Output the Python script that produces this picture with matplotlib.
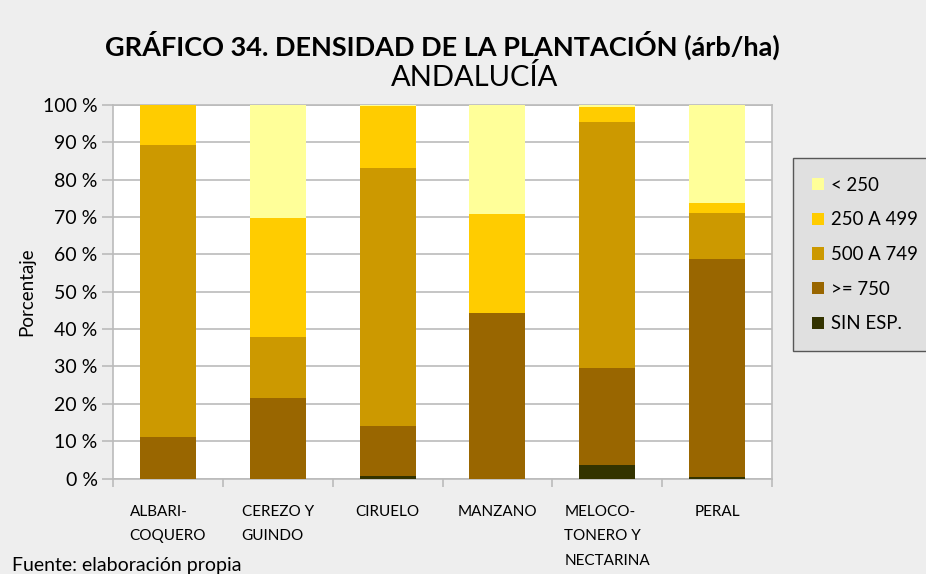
import numpy as np
import matplotlib.pyplot as plt

plt.rcParams['font.family'] = ['Lato', 'DejaVu Sans']

categorias = ["ALBARI-\nCOQUERO", "CEREZO Y\nGUINDO", "CIRUELO", "MANZANO",
              "MELOCO-\nTONERO Y\nNECTARINA", "PERAL"]

# porcentaje de superficie por clase de densidad (apiladas de abajo arriba)
sin_esp = [0.0, 0.0, 0.7, 0.0, 3.6, 0.4]
mayor_750 = [11.1, 21.6, 13.3, 44.3, 26.0, 58.4]
de_500_749 = [78.2, 16.3, 69.2, 0.0, 65.9, 12.3]
de_250_499 = [10.7, 31.9, 16.6, 26.5, 4.0, 2.7]
menor_250 = [0.0, 30.2, 0.2, 29.2, 0.5, 26.2]

series = [("SIN ESP.", sin_esp, "#333300"),
          (">= 750", mayor_750, "#996600"),
          ("500 A 749", de_500_749, "#CC9900"),
          ("250 A 499", de_250_499, "#FFCC00"),
          ("< 250", menor_250, "#FFFF99")]

fig = plt.figure(figsize=(9.26, 5.74), dpi=100, facecolor="#eeeeee")
ax = fig.add_axes([113/926, 1 - 478.5/574, (772 - 113)/926, (478.5 - 105)/574])

x = np.arange(len(categorias))
base = np.zeros(len(categorias))
handles = []
for nombre, vals, color in series:
    b = ax.bar(x, vals, width=0.51, bottom=base, color=color, label=nombre, zorder=3)
    handles.append(b)
    base += np.array(vals)

ax.set_xlim(-0.5, len(categorias) - 0.5)
ax.set_ylim(0, 100)
ax.set_yticks(np.arange(0, 101, 10))
ax.set_yticklabels([f"{v} %" for v in range(0, 101, 10)], fontsize=14)
ax.yaxis.grid(True, color="#bbbbbb", linewidth=1.2, zorder=0)

ax.set_xticks(np.arange(-0.5, len(categorias), 1.0))
ax.set_xticklabels([])
ax.set_xticks(x, minor=True)
ax.set_xticklabels(categorias, minor=True, fontsize=11, linespacing=1.95, va="top")
ax.tick_params(axis="x", which="minor", length=0, pad=19)
ax.tick_params(axis="x", which="major", length=6, color="#bbbbbb", width=1.2)
ax.tick_params(axis="y", length=8, color="#bbbbbb", width=1.2, pad=3)
for lab in ax.get_xticklabels(minor=True):
    lab.set_multialignment("left")

for side in ["top", "right", "left", "bottom"]:
    ax.spines[side].set_color("#bbbbbb")
    ax.spines[side].set_linewidth(1.2)

ax.set_ylabel("Porcentaje", fontsize=13.5, labelpad=6)

fig.text(442/926, 1 - 45/574, "GRÁFICO 34. DENSIDAD DE LA PLANTACIÓN (árb/ha)",
         ha="center", va="center", fontsize=19.5, fontweight="bold")
fig.text(475/926, 1 - 77/574, "ANDALUCÍA", ha="center", va="center", fontsize=21)
fig.text(12/926, 1 - 565/574, "Fuente: elaboración propia", ha="left", va="center", fontsize=14)

leg = fig.legend(handles[::-1], [s[0] for s in series[::-1]],
                 loc="upper left", bbox_to_anchor=(793/926, 1 - 158/574),
                 fontsize=13.4, frameon=True, fancybox=False, handlelength=0.65,
                 handleheight=0.65, labelspacing=0.95, borderpad=1.0, handletextpad=0.4,
                 borderaxespad=0)
leg.get_frame().set_facecolor("#dddddd")
leg.get_frame().set_edgecolor("#333333")
leg.get_frame().set_linewidth(1.0)

fig.savefig("out.png", dpi=100, facecolor=fig.get_facecolor())
